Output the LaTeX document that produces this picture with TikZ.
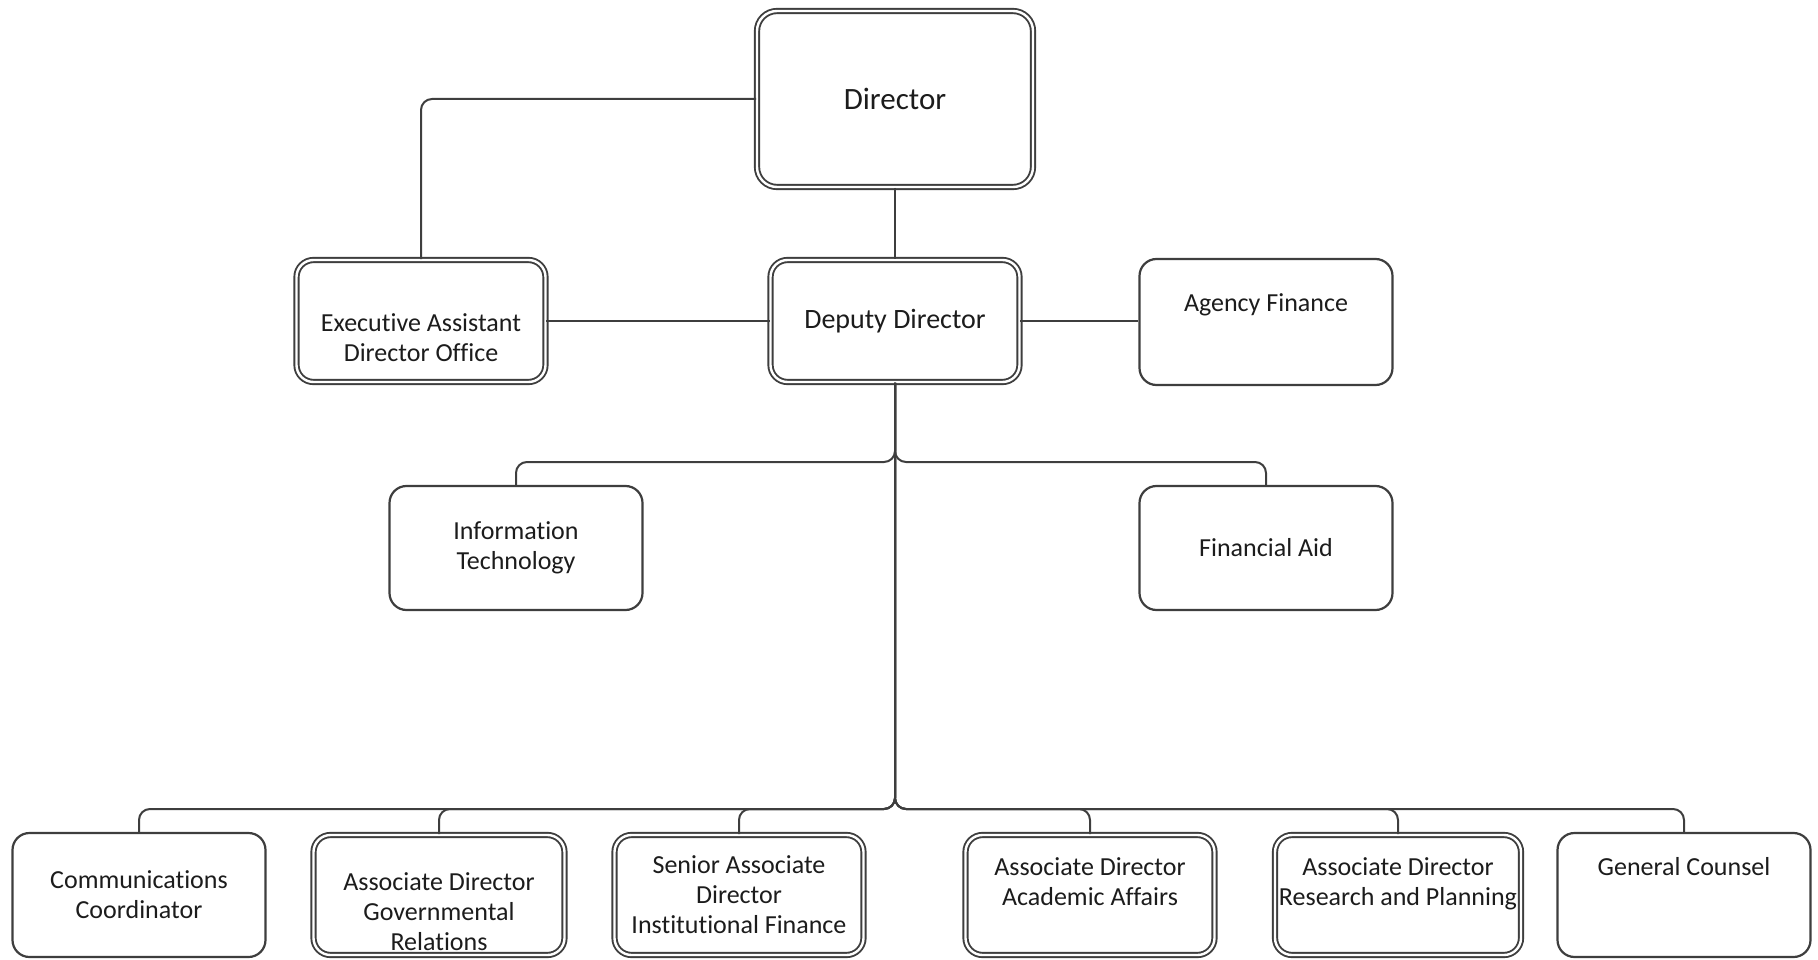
\documentclass[tikz,border=0pt]{standalone}
\usepackage{fontspec}
\setmainfont{Carlito}[Ligatures=CommonOff]
\usepackage{tikz}
\definecolor{chart-line}{RGB}{62,62,62}
\definecolor{chart-text}{RGB}{28,28,28}

\begin{document}
\begin{tikzpicture}[x=1pt, y=-1pt,
		box/.style={draw=chart-line, line width=2.2pt, fill=white, rounded corners=17pt, align=center, text=chart-text, font=\fontsize{26}{30}\selectfont, inner sep=2pt, minimum width=253pt, minimum height=124pt},
		dbox/.style={box, line width=1.9pt, double=white, double distance=2.4pt, minimum width=249pt, minimum height=120pt},
		conn/.style={draw=chart-line, line width=2pt, rounded corners=11pt}]
		\useasboundingbox (0,0) rectangle (1818,960);
		
		% Draw the top of the chart
		\node (dir) [dbox, minimum width=276pt, minimum height=176pt, rounded corners=20pt, font=\fontsize{31}{36}\selectfont] at (895,99) {Director};
		\node (dep) [dbox, minimum height=122pt, font=\fontsize{28}{32}\selectfont] at (895,321) {Deputy Director};
		\node (exec) [dbox, minimum height=122pt] at (421,321) {\strut\\Executive Assistant\\Director Office};
		\node (agency) [box, minimum height=126pt] at (1266,322) {Agency Finance\\\strut};
		
		% Draw the middle row
		\node (it) [box] at (516,548) {Information\\Technology};
		\node (fa) [box] at (1266,548) {Financial Aid};
		
		% Draw the bottom row
		\node (comm) [box] at (139,895) {Communications\\Coordinator};
		\node (gov) [dbox, minimum width=251pt] at (439,895) {\strut\\Associate Director\\Governmental\\Relations};
		\node (senior) [dbox] at (739,895) {Senior Associate\\Director\\Institutional Finance};
		\node (acad) [dbox] at (1090,895) {Associate Director\\Academic Affairs\\[-12pt]\strut};
		\node (research) [dbox, minimum width=246pt] at (1398,895) {Associate Director\\Research and Planning\\[-12pt]\strut};
		\node (counsel) [box] at (1684,895) {General Counsel\\\strut\\[-12pt]\strut};
		
		% Branch points below the deputy
		\coordinate (upper) at (895,462);
		\coordinate (lower) at (895,809);
		
		% Connect the boxes
		\draw[conn] (dir.west) -| (exec.north);
		\draw[conn] (dir.south) -- (dir.south |- dep.north);
		\draw[conn] (exec.east) -- (dep.west);
		\draw[conn] (dep.east) -- (agency.west |- dep.east);
		\draw[conn] (dep.south) -- (upper) -| (it.north);
		\draw[conn] (dep.south) -- (upper) -| (fa.north);
		\foreach \n in {comm,gov,senior,acad,research,counsel}
			\draw[conn] (dep.south) -- (lower) -| (\n.north);
\end{tikzpicture}
\end{document}
